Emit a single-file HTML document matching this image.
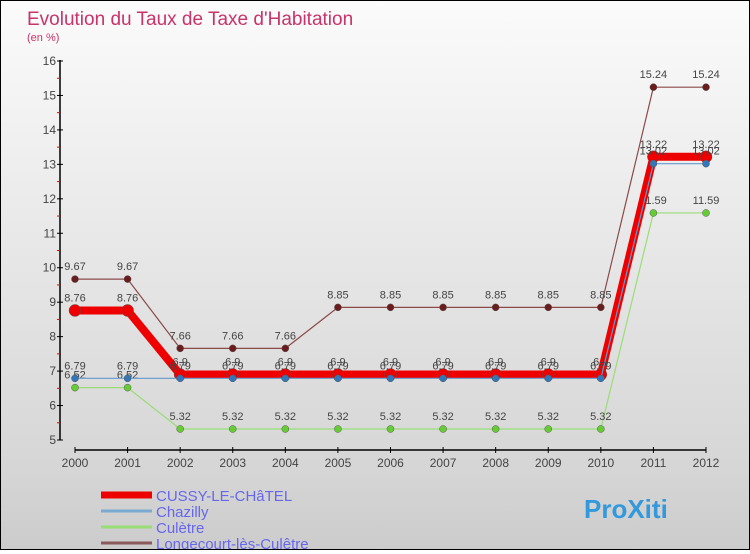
<!DOCTYPE html>
<html><head><meta charset="utf-8"><style>
html,body{margin:0;padding:0}
body{width:750px;height:550px;overflow:hidden;font-family:"Liberation Sans",sans-serif}
#wrap{position:absolute;left:0;top:0;width:748px;height:548px;border:1px solid #000;background:linear-gradient(#fbfbfb,#d6d6d6 85%,#cccccc)}
</style></head><body>
<div id="wrap">
<svg id="chart" width="748" height="548" xmlns="http://www.w3.org/2000/svg">
<text x="26" y="24" font-size="19" fill="#c8336a">Evolution du Taux de Taxe d'Habitation</text>
<text x="26" y="40" font-size="11" fill="#c8336a">(en %)</text>
</svg>
</div>
<script>
const years=[2000,2001,2002,2003,2004,2005,2006,2007,2008,2009,2010,2011,2012];
const yTicks=[5,6,7,8,9,10,11,12,13,14,15,16];
const cussy=[8.76,8.76,6.9,6.9,6.9,6.9,6.9,6.9,6.9,6.9,6.9,13.22,13.22];
const chazilly=[6.79,6.79,6.79,6.79,6.79,6.79,6.79,6.79,6.79,6.79,6.79,13.02,13.02];
const culetre=[6.52,6.52,5.32,5.32,5.32,5.32,5.32,5.32,5.32,5.32,5.32,11.59,11.59];
const longecourt=[9.67,9.67,7.66,7.66,7.66,8.85,8.85,8.85,8.85,8.85,8.85,15.24,15.24];
const seriesNames=["CUSSY-LE-CHâTEL","Chazilly","Culètre","Longecourt-lès-Culêtre"];
const svg=document.getElementById('chart');
const NS="http://www.w3.org/2000/svg";
function xs(i){return 74+i*(631/(years.length-1));}
function ys(v){return 439-(v-5)*(379/11);}
function mk(t,a,p){const e=document.createElementNS(NS,t);for(const k in a)e.setAttribute(k,a[k]);(p||svg).appendChild(e);return e;}
// axes
let ax=mk('line',{x1:59,y1:59,x2:59,y2:439,stroke:'#000','stroke-width':1.5});


let axx=mk('line',{x1:74,y1:449,x2:705,y2:449,stroke:'#000','stroke-width':1.5});


yTicks.forEach(v=>{
 mk('line',{x1:56,x2:62,y1:ys(v),y2:ys(v),stroke:'#000'});
 if(v<16) mk('line',{x1:56,x2:59,y1:ys(v+0.5),y2:ys(v+0.5),stroke:'#e00'});
 const t=mk('text',{x:55,y:ys(v)+4,'font-size':12,fill:'#444','text-anchor':'end'});
 t.textContent=v;
 
 
});
years.forEach((y,i)=>{
 mk('line',{x1:xs(i),x2:xs(i),y1:446,y2:452,stroke:'#000'});
 const t=mk('text',{x:xs(i),y:466,'font-size':12,fill:'#444','text-anchor':'middle'});
 t.textContent=y;
 
 
});
function series(data,color,dot,w,r,name){
 const g=mk('g',{});
 
 
 mk('polyline',{points:data.map((v,i)=>xs(i)+','+ys(v)).join(' '),fill:'none',stroke:color,'stroke-width':w,'stroke-linejoin':'round'},g);
 data.forEach((v,i)=>{
  const c=mk('circle',{cx:xs(i),cy:ys(v),r:r,fill:dot,stroke:'#555','stroke-width':0.5},g);
  
  
  const t=mk('text',{x:xs(i),y:ys(v)-9,'font-size':11,fill:'#444','text-anchor':'middle'},g);
  t.textContent=String(v).replace(/^(\d+\.\d)$/,'$1');
  
  
 });
}
series(longecourt,'#8b4a4a','#6b1c1c',1.2,3.5,'series-longecourt');
series(culetre,'#99dd77','#66cc33',1.2,3.5,'series-culetre');
series(cussy,'#ee0000','#ee0000',8,6,'series-cussy');
series(chazilly,'#6699cc','#3377bb',1.2,3.5,'series-chazilly');
// legend
const lc=['#ee0000','#7aaad0','#99dd77','#8b5a5a'];
const lw=[7,3,3,3];
seriesNames.forEach((n,i)=>{
 const y=492+i*16;
 const g=mk('g',{});
 
 
 mk('line',{x1:100,x2:151,y1:y+2,y2:y+2,stroke:lc[i],'stroke-width':lw[i]},g);
 const t=mk('text',{x:155,y:y+8,'font-size':15,fill:'#6666ee'},g);
 t.textContent=n;
});
const lg=mk('text',{x:583,y:517,'font-size':26,'font-weight':'bold',fill:'#3399dd'});
lg.textContent='ProXiti';


</script>
</body></html>
